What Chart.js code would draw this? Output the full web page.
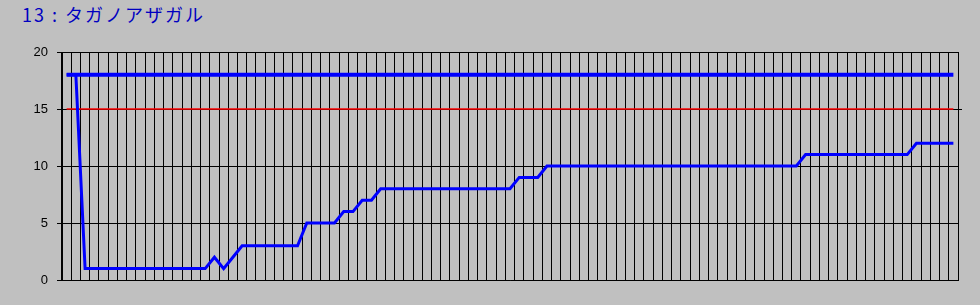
<!DOCTYPE html>
<html>
<head>
<meta charset="utf-8">
<script src="https://cdn.jsdelivr.net/npm/chart.js@4.4.0/dist/chart.umd.min.js"></script>
<style>
  html, body { margin: 0; padding: 0; background: #c0c0c0; }
  .wrap { position: relative; width: 980px; height: 305px; }
  .title {
    position: absolute; left: 22px; top: 1px;
    font-family: "Noto Sans CJK JP", "Noto Sans", sans-serif;
    font-size: 18px; letter-spacing: 2px; color: #0000c0;
  }
  canvas { position: absolute; left: 0; top: 0; }
</style>
</head>
<body>
<div class="wrap">
  <div class="title">13 : タガノアザガル</div>
  <canvas id="linechart" width="980" height="305"></canvas>
</div>
<script>
// positions, one per step
const positions = [
  18, 18, 1, 1, 1, 1, 1, 1, 1, 1, 1, 1, 1, 1, 1, 1,
  2, 1, 2, 3, 3, 3, 3, 3, 3, 3, 5, 5, 5, 5, 6, 6, 7, 7,
  8, 8, 8, 8, 8, 8, 8, 8, 8, 8, 8, 8, 8, 8, 8,
  9, 9, 9,
  10, 10, 10, 10, 10, 10, 10, 10, 10, 10, 10, 10, 10, 10,
  10, 10, 10, 10, 10, 10, 10, 10, 10, 10, 10, 10, 10, 10,
  11, 11, 11, 11, 11, 11, 11, 11, 11, 11, 11, 11,
  12, 12, 12, 12, 12
];
const fieldSize = 18;   // top blue line
const borderLine = 15;  // red line
const yTicks = [0, 5, 10, 15, 20];

const labels = positions.map((_, i) => String(i + 1));

const ctxLine = document.getElementById('linechart');

new Chart(ctxLine, {
    type: 'line',
    data: {
        labels: labels,
        datasets: [
            {
                data: positions,
                borderColor: '#0000ff',
                borderWidth: 3,
                pointRadius: 0,
                tension: 0,
                order: 0
            },
            {
                data: labels.map(() => fieldSize),
                borderColor: '#0000ff',
                borderWidth: 4,
                pointRadius: 0,
                order: 1
            },
            {
                data: labels.map(() => borderLine),
                borderColor: '#ff0000',
                borderWidth: 1.5,
                pointRadius: 0,
                order: 2
            }
        ]
    },
    options: {
        responsive: false,
        animation: false,
        events: [],
        layout: { padding: { top: 52, right: 18, bottom: 25, left: 0 } },
        plugins: {
            legend: { display: false },
            tooltip: { enabled: false },
            title: { display: false }
        },
        scales: {
            x: {
                offset: true,
                grid: { offset: true, color: '#000000', lineWidth: 1, drawTicks: false },
                border: { display: true, color: '#000000' },
                ticks: { display: false },
                afterFit: function (scale) { scale.height = 0; }
            },
            y: {
                min: 0,
                max: 20,
                afterBuildTicks: function (scale) {
                    scale.ticks = yTicks.map(v => ({ value: v }));
                },
                grid: { color: '#000000', lineWidth: 1, tickLength: 5 },
                border: { display: true, color: '#000000' },
                ticks: {
                    color: '#000000',
                    padding: 9,
                    font: { family: 'Liberation Sans', size: 13 }
                },
                afterFit: function (scale) { scale.width = 62; }
            },
            // small tick on the right side at the red line
            y2: {
                position: 'right',
                min: 0,
                max: 20,
                afterBuildTicks: function (scale) {
                    scale.ticks = [{ value: borderLine }];
                },
                grid: { drawOnChartArea: false, color: '#000000', tickLength: 4 },
                border: { display: false },
                ticks: { display: false },
                afterFit: function (scale) { scale.width = 4; }
            }
        }
    }
});
</script>
</body>
</html>
